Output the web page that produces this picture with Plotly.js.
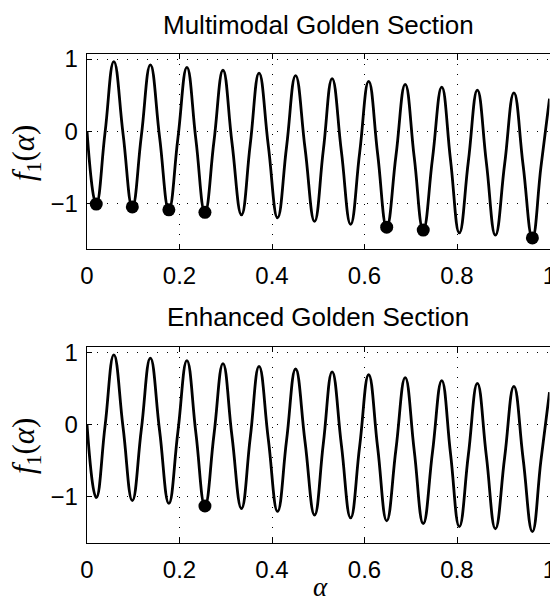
<!DOCTYPE html>
<html>
<head>
<meta charset="utf-8">
<script src="https://cdn.plot.ly/plotly-3.0.1.min.js"></script>
<style>html,body{margin:0;padding:0;background:#fff;}#chart{width:550px;height:598px;}</style>
</head>
<body>
<div id="chart"></div>
<script>
// Curve: start, troughs, mid-crossings, peaks
const alpha = [0, 0.020, 0.039, 0.058, 0.078, 0.098, 0.1175, 0.137, 0.157, 0.177, 0.1965, 0.216,
  0.2355, 0.255, 0.2745, 0.294, 0.3135, 0.334, 0.353, 0.372, 0.392, 0.412, 0.4315, 0.451,
  0.4715, 0.492, 0.511, 0.530, 0.550, 0.570, 0.5895, 0.609, 0.6285, 0.648, 0.668, 0.688,
  0.7075, 0.727, 0.747, 0.767, 0.786, 0.805, 0.8245, 0.844, 0.8635, 0.883, 0.903, 0.923,
  0.943, 0.963, 0.9815, 1.0];
const f1 = [0, -1.01, -0.02, 0.965, -0.04, -1.05, -0.065, 0.92, -0.085, -1.09, -0.10, 0.885,
  -0.12, -1.125, -0.14, 0.845, -0.16, -1.16, -0.18, 0.805, -0.20, -1.20, -0.215, 0.77,
  -0.24, -1.25, -0.26, 0.73, -0.28, -1.29, -0.30, 0.69, -0.32, -1.33, -0.34, 0.65,
  -0.36, -1.37, -0.38, 0.61, -0.40, -1.41, -0.42, 0.57, -0.435, -1.44, -0.455, 0.53,
  -0.475, -1.48, -0.495, 0.45];

// Minima found
const multiX = [0.020, 0.098, 0.177, 0.255, 0.648, 0.727, 0.963];
const multiY = [-1.01, -1.05, -1.09, -1.125, -1.33, -1.37, -1.48];
const enhX = [0.255];
const enhY = [-1.125];

const xTicks = [0, 0.2, 0.4, 0.6, 0.8, 1];
const xTickText = ['0', '0.2', '0.4', '0.6', '0.8', '1'];
const yTicks = [-1, 0, 1];
const yTickText = ['\u22121', '0', '1'];

const titles = ['Multimodal Golden Section', 'Enhanced Golden Section'];

const W = 550, H = 598;
const FONT = '"Liberation Sans", Arial, Helvetica, sans-serif';
const SERIF = '"Liberation Serif", "Times New Roman", serif';

const traces = [
  {x: alpha, y: f1, xaxis: 'x', yaxis: 'y', mode: 'lines', line: {color: '#000', width: 2.8, shape: 'spline', smoothing: 1.3}, hoverinfo: 'skip'},
  {x: multiX, y: multiY, xaxis: 'x', yaxis: 'y', mode: 'markers', marker: {color: '#000', size: 13}},
  {x: alpha, y: f1, xaxis: 'x2', yaxis: 'y2', mode: 'lines', line: {color: '#000', width: 2.8, shape: 'spline', smoothing: 1.3}, hoverinfo: 'skip'},
  {x: enhX, y: enhY, xaxis: 'x2', yaxis: 'y2', mode: 'markers', marker: {color: '#000', size: 13}}
];

function xax(anchor, dom) {
  return {
    anchor: anchor, domain: dom, range: [0, 1], tickvals: xTicks, ticktext: xTickText,
    ticks: 'inside', ticklen: 5, tickcolor: '#000', tickwidth: 1,
    showline: true, linecolor: '#000', linewidth: 1.3, mirror: 'ticks',
    showgrid: true, gridcolor: '#000', gridwidth: 1, griddash: '1px,9px',
    zeroline: false, tickfont: {family: FONT, size: 24, color: '#000'}, ticklabelstandoff: 5,
    ticklabeloverflow: 'allow'
  };
}
function yax(anchor, dom) {
  return {
    anchor: anchor, domain: dom, range: [-1.633, 1.07], tickvals: yTicks, ticktext: yTickText,
    ticks: 'inside', ticklen: 5, tickcolor: '#000', tickwidth: 1,
    showline: true, linecolor: '#000', linewidth: 1.3, mirror: false,
    showgrid: true, gridcolor: '#000', gridwidth: 1, griddash: '1px,9px',
    zeroline: false, tickfont: {family: FONT, size: 24, color: '#000'}, ticklabelstandoff: 3,
    ticklabeloverflow: 'allow'
  };
}

const xDom = [87 / W, 549.5 / W];
const layout = {
  width: W, height: H, margin: {l: 0, r: 0, t: 0, b: 0},
  paper_bgcolor: '#fff', plot_bgcolor: '#fff', showlegend: false,
  xaxis: xax('y', xDom), yaxis: yax('x', [1 - 249 / H, 1 - 54 / H]),
  xaxis2: xax('y2', xDom), yaxis2: yax('x2', [1 - 542.7 / H, 1 - 347.3 / H]),
  annotations: [
    {text: titles[0], xref: 'paper', yref: 'paper', x: 318 / W, y: 1 - 25 / H, xanchor: 'center', yanchor: 'middle', showarrow: false, font: {family: FONT, size: 26, color: '#000'}},
    {text: titles[1], xref: 'paper', yref: 'paper', x: 318 / W, y: 1 - 317 / H, xanchor: 'center', yanchor: 'middle', showarrow: false, font: {family: FONT, size: 26, color: '#000'}},
    {text: '<i>f</i><sub>1</sub>(<i>\u03b1</i>)', xref: 'paper', yref: 'paper', x: 26 / W, y: 1 - 153 / H, xanchor: 'center', yanchor: 'middle', textangle: -90, showarrow: false, font: {family: SERIF, size: 31, color: '#000'}},
    {text: '<i>f</i><sub>1</sub>(<i>\u03b1</i>)', xref: 'paper', yref: 'paper', x: 26 / W, y: 1 - 446 / H, xanchor: 'center', yanchor: 'middle', textangle: -90, showarrow: false, font: {family: SERIF, size: 31, color: '#000'}},
    {text: '<i>\u03b1</i>', xref: 'paper', yref: 'paper', x: 320 / W, y: 0, xanchor: 'center', yanchor: 'bottom', yshift: -6, showarrow: false, font: {family: SERIF, size: 27, color: '#000'}}
  ]
};

Plotly.newPlot('chart', traces, layout, {staticPlot: true, displayModeBar: false});
</script>
</body>
</html>
